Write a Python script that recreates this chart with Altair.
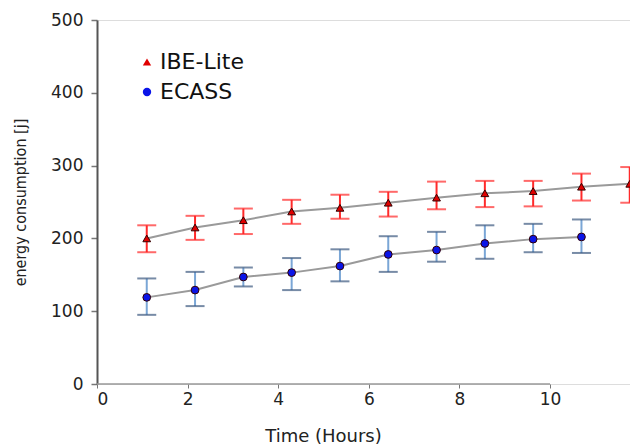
import altair as alt
import pandas as pd

hours_ibe = [1, 2, 3, 4, 5, 6, 7, 8, 9, 10, 11]
ibe = [200, 215, 225, 237, 242, 249, 256, 262, 265, 271, 275]
ibe_lo = [181, 198, 206, 220, 227, 230, 240, 243, 244, 252, 249]
ibe_hi = [218, 231, 241, 253, 260, 264, 278, 279, 279, 289, 298]

hours_ecass = [1, 2, 3, 4, 5, 6, 7, 8, 9, 10]
ecass = [119, 129, 147, 153, 162, 178, 184, 193, 199, 202]
ecass_lo = [95, 107, 134, 129, 141, 154, 168, 172, 181, 180]
ecass_hi = [145, 154, 160, 173, 185, 203, 209, 218, 220, 226]

x_ticks = [0, 2, 4, 6, 8, 10]
y_ticks = [0, 100, 200, 300, 400, 500]
series = ["IBE-Lite", "ECASS"]

df = pd.DataFrame(
    {"t": hours_ibe, "v": ibe, "lo": ibe_lo, "hi": ibe_hi, "s": "IBE-Lite"}
)
df = pd.concat(
    [df, pd.DataFrame({"t": hours_ecass, "v": ecass, "lo": ecass_lo, "hi": ecass_hi, "s": "ECASS"})],
    ignore_index=True,
)
axis_df = pd.DataFrame({"a": [x_ticks[0]], "b": [x_ticks[-1]], "z": [0]})

W, H = 533, 364
xs = alt.Scale(domain=[-0.03, 11.005], nice=False, zero=False)
ys = alt.Scale(domain=[0, 500], nice=False)
yax = alt.Axis(values=y_ticks, title="energy consumption [j]", grid=False,
               labelFont="DejaVu Sans", labelFontSize=17, labelColor="#222",
               labelPadding=8, tickSize=6, tickColor="#777", tickWidth=1.5,
               domainColor="#555", domainWidth=2,
               titleFont="DejaVu Sans Condensed", titleFontSize=16, titleFontWeight="normal",
               titleColor="#222", titlePadding=22)

base = alt.Chart(df)

xaxis_layer = alt.Chart(axis_df).mark_rule(color="#999", strokeWidth=1.5).encode(
    x=alt.X("a:Q", scale=alt.Scale(domain=[0, 11.766], nice=False, zero=False),
            axis=alt.Axis(values=x_ticks, title="Time (Hours)", grid=False, domain=False,
                          labelFont="DejaVu Sans", labelFontSize=17, labelColor="#222",
                          tickSize=4, tickColor="#777", labelPadding=3,
                          titleFont="DejaVu Sans", titleFontSize=18, titleFontWeight="normal",
                          titleColor="#222", titleX=226, titlePadding=20)),
    x2="b:Q",
    y=alt.Y("z:Q", scale=ys, axis=yax),
)

line = base.mark_line(color="#9a9a9a", strokeWidth=2).encode(
    x=alt.X("t:Q", scale=xs, axis=None),
    y=alt.Y("v:Q", scale=ys),
    detail="s:N",
)

bars = base.mark_rule(strokeWidth=2).encode(
    x=alt.X("t:Q", scale=xs, axis=None),
    y=alt.Y("lo:Q", scale=ys),
    y2="hi:Q",
    stroke=alt.Stroke("s:N", scale=alt.Scale(domain=series, range=["#ff2a2a", "#7aa6d6"]), legend=None),
)
caps = alt.layer(
    base.mark_tick(orient="horizontal", size=19, thickness=2).encode(
        x=alt.X("t:Q", scale=xs, axis=None),
        y=alt.Y("lo:Q", scale=ys),
        color=alt.Color("s:N", scale=alt.Scale(domain=series, range=["#ff2a2a", "#3d5a80"]), legend=None),
    ),
    base.mark_tick(orient="horizontal", size=19, thickness=2).encode(
        x=alt.X("t:Q", scale=xs, axis=None),
        y=alt.Y("hi:Q", scale=ys),
        color=alt.Color("s:N", scale=alt.Scale(domain=series, range=["#ff2a2a", "#3d5a80"]), legend=None),
    ),
)

pts = base.mark_point(filled=True, opacity=1, stroke="#300", strokeWidth=1, size=60).encode(
    x=alt.X("t:Q", scale=xs, axis=None),
    y=alt.Y("v:Q", scale=ys),
    shape=alt.Shape("s:N", scale=alt.Scale(domain=series, range=["triangle-up", "circle"]),
                    legend=alt.Legend(title=None, orient="none", legendX=39, legendY=31, padding=0,
                                      labelFont="DejaVu Sans", labelFontSize=22, labelColor="#111",
                                      symbolSize=70, symbolStrokeColor="#300", symbolStrokeWidth=1,
                                      labelOffset=2, rowPadding=8)),
    fill=alt.Fill("s:N", scale=alt.Scale(domain=series, range=["#e00000", "#0a14e8"]), legend=None),
)

chart = alt.layer(xaxis_layer, line, bars, caps, pts).resolve_scale(
    x="independent", color="independent", stroke="independent"
).properties(
    width=W, height=H,
    autosize=alt.AutoSizeParams(type="none"),
    padding={"left": 89, "top": 12, "right": 0, "bottom": 60},
).configure_view(stroke=None).configure(background="white")

chart.save("out.html", embed_options={"renderer": "svg", "actions": False})
